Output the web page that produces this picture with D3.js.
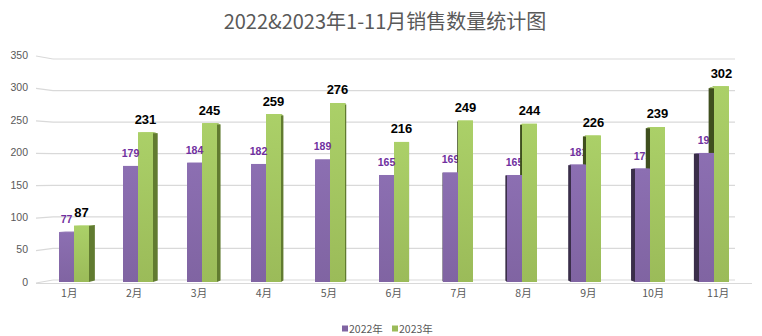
<!DOCTYPE html>
<html>
<head>
<meta charset="utf-8">
<script src="https://cdn.jsdelivr.net/npm/d3@7/dist/d3.min.js"></script>
<style>
  html, body { margin: 0; padding: 0; background: #fff; }
  svg { display: block; }
</style>
</head>
<body>
<svg id="chart" width="762" height="336"></svg>
<script>
// Monthly sales quantities, January to November
const months = ['1月', '2月', '3月', '4月', '5月', '6月', '7月', '8月', '9月', '10月', '11月'];
const sales2022 = [77, 179, 184, 182, 189, 165, 169, 165, 181, 175, 199];
const sales2023 = [87, 231, 245, 259, 276, 216, 249, 244, 226, 239, 302];
const yTicks = [0, 50, 100, 150, 200, 250, 300, 350];
const seriesNames = ['2022年', '2023年'];
const titleText = '2022&2023年1-11月销售数量统计图';

const svg = d3.select('#chart');
const numFont = "'Liberation Sans Narrow', 'Liberation Sans', sans-serif";
const mixedFont = "'Liberation Sans Narrow', 'Noto Sans CJK SC', sans-serif";

// colours
const purple = '#8064a2', purpleTop = '#8c6fb2', purpleDark = '#3a2e4a';
const green = '#9bbb59', greenTop = '#abd068', greenDark = '#3f4f1e', greenSide = '#617b30';
const gridColor = '#d9d9d9', textGray = '#595959';

// perspective used for the depth of the 3-D bars
const VX = 415, VY = 197, DEPTH = 0.982;
const back = (x, y) => [VX + DEPTH * (x - VX), VY + DEPTH * (y - VY)];

// scales
const x = d3.scaleBand().domain(months).range([42, 746]).padding(0);
const sub = d3.scaleBand().domain(seriesNames).range([17, 47]).padding(0);
const y = d3.scaleLinear().domain([0, 350]).range([282, 55]);
const yWall = d3.scaleLinear().domain([0, 350]).range([280, 59]);
const LABEL_SPREAD = 1.014;
const xLabel = d3.scaleBand().domain(months)
  .range([VX + LABEL_SPREAD * (42 - VX), VX + LABEL_SPREAD * (746 - VX)]).padding(0);

// gradients for the front faces
const defs = svg.append('defs');
function vGrad(id, top, bottom) {
  const g = defs.append('linearGradient').attr('id', id)
    .attr('x1', 0).attr('y1', 0).attr('x2', 0).attr('y2', 1);
  g.append('stop').attr('offset', '0%').attr('stop-color', top);
  g.append('stop').attr('offset', '100%').attr('stop-color', bottom);
}
vGrad('gPurple', purpleTop, purple);
vGrad('gGreen', greenTop, green);

// title
svg.append('text')
  .attr('x', 385).attr('y', 29)
  .attr('text-anchor', 'middle')
  .attr('font-family', "'Noto Sans CJK SC', sans-serif")
  .attr('font-size', 20)
  .attr('fill', textGray)
  .text(titleText);

// back wall gridlines and the slanted side-wall ticks
const grid = svg.append('g');
grid.selectAll('line.wall').data(yTicks).join('line')
  .attr('x1', 53).attr('x2', 735)
  .attr('y1', d => yWall(d)).attr('y2', d => yWall(d))
  .attr('stroke', gridColor).attr('stroke-width', 1.2);
grid.selectAll('line.side').data(yTicks).join('line')
  .attr('x1', 36).attr('y1', d => y(d) + 1)
  .attr('x2', 53).attr('y2', d => yWall(d))
  .attr('stroke', gridColor).attr('stroke-width', 1.2);
// front edge of the floor
grid.append('line')
  .attr('x1', 36).attr('x2', 752)
  .attr('y1', y(0) + 1.5).attr('y2', y(0) + 1.5)
  .attr('stroke', gridColor).attr('stroke-width', 1.2);

// y axis labels
const yAxis = svg.append('g')
  .attr('transform', 'translate(28,0)')
  .call(d3.axisLeft(y).tickValues(yTicks).tickSize(0).tickPadding(0));
yAxis.select('.domain').remove();
yAxis.selectAll('text').attr('fill', textGray).attr('font-size', 10.5)
  .attr('font-family', numFont);

// month labels
const xAxis = svg.append('g')
  .attr('transform', 'translate(0,290)')
  .call(d3.axisBottom(xLabel).tickSize(0).tickPadding(0));
xAxis.select('.domain').remove();
xAxis.selectAll('text').attr('fill', textGray).attr('font-size', 10.5)
  .attr('font-family', mixedFont);

// 3-D bar helpers
function sidePoly(xEdge, yTop, yBot) {
  const [bx, bt] = back(xEdge, yTop);
  const [, bb] = back(xEdge, yBot);
  return [[xEdge, yTop], [bx, bt], [bx, bb], [xEdge, yBot]];
}
function topPoly(x0, x1, yTop) {
  const a = back(x0, yTop), b = back(x1, yTop);
  return [[x0, yTop], [x1, yTop], b, a];
}
const line = d3.line();

const groups = months.map((m, i) => ({ m, v: [sales2022[i], sales2023[i]] }));
const bars = svg.append('g');

function purpleLabel(G, value, cx, top) {
  G.append('text')
    .attr('x', cx).attr('y', top - 9)
    .attr('text-anchor', 'middle')
    .attr('font-size', 10.5).attr('font-weight', 'bold')
    .attr('font-family', numFont)
    .attr('fill', '#7030a0')
    .text(value);
}

groups.forEach(g => {
  const gx = x(g.m);
  const px0 = gx + sub(seriesNames[0]), px1 = px0 + sub.bandwidth();
  const qx0 = gx + sub(seriesNames[1]), qx1 = qx0 + sub.bandwidth();
  const pTop = y(g.v[0]), qTop = y(g.v[1]), base = y(0);
  const cx = (px0 + qx1) / 2;
  const leftOfCentre = cx <= VX;
  const G = bars.append('g');

  // on the right half the purple label sits behind the green bar's side
  if (!leftOfCentre) purpleLabel(G, g.v[0], (px0 + px1) / 2, pTop);

  // side faces
  if (leftOfCentre) {
    G.append('path').attr('d', line(sidePoly(qx1, qTop, base)) + 'Z').attr('fill', greenSide);
  } else {
    G.append('path').attr('d', line(sidePoly(qx0, qTop, base)) + 'Z').attr('fill', greenDark);
    G.append('path').attr('d', line(sidePoly(px0, pTop, base)) + 'Z').attr('fill', purpleDark);
  }
  // top faces
  G.append('path').attr('d', line(topPoly(qx0, qx1, qTop)) + 'Z').attr('fill', '#b7d77a');
  G.append('path').attr('d', line(topPoly(px0, px1, pTop)) + 'Z').attr('fill', '#9a80bb');

  // front faces
  G.append('rect').attr('x', px0).attr('y', pTop)
    .attr('width', px1 - px0).attr('height', base - pTop)
    .attr('fill', 'url(#gPurple)');
  G.append('rect').attr('x', qx0).attr('y', qTop)
    .attr('width', qx1 - qx0).attr('height', base - qTop)
    .attr('fill', 'url(#gGreen)');

  if (leftOfCentre) purpleLabel(G, g.v[0], (px0 + px1) / 2, pTop);

  // green value label
  G.append('text')
    .attr('x', (qx0 + qx1) / 2).attr('y', qTop - 8.5)
    .attr('text-anchor', 'middle')
    .attr('font-size', 13).attr('font-weight', 'bold')
    .attr('font-family', numFont)
    .attr('fill', '#000')
    .text(g.v[1]);
});

// legend
const legendColors = [purple, green];
const legend = svg.append('g').attr('transform', 'translate(342,329)');
const legendX = [0, 50];
seriesNames.forEach((name, i) => {
  const L = legend.append('g').attr('transform', `translate(${legendX[i]},0)`);
  L.append('rect').attr('x', 0).attr('y', -3.5).attr('width', 6).attr('height', 6)
    .attr('fill', legendColors[i]);
  L.append('text').attr('x', 7).attr('y', 3.5)
    .attr('font-size', 10.5)
    .attr('font-family', mixedFont)
    .attr('fill', textGray)
    .text(name);
});
</script>
</body>
</html>
